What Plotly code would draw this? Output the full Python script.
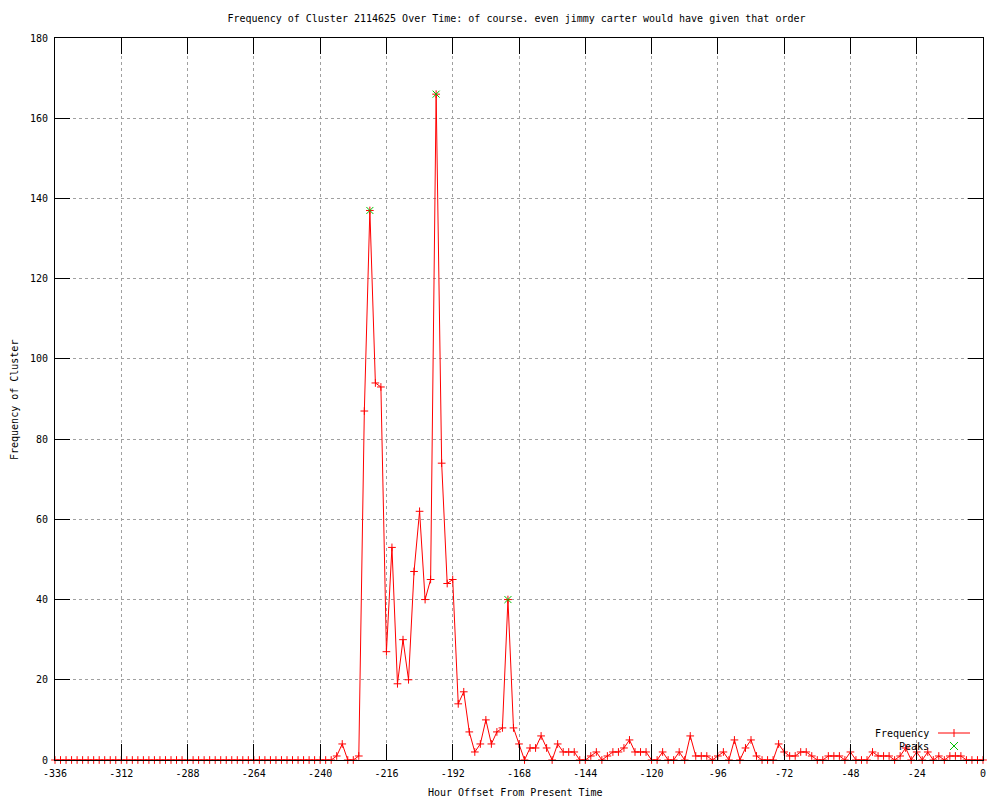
import plotly.graph_objects as go

# ---- data ----
hours = list(range(-336, 1, 2))  # hour offsets, one sample every 2 hours
frequency = [
    0, 0, 0, 0, 0, 0, 0, 0, 0, 0,          # -336 .. -318
    0, 0, 0, 0, 0, 0, 0, 0, 0, 0,          # -316 .. -298
    0, 0, 0, 0, 0, 0, 0, 0, 0, 0,          # -296 .. -278
    0, 0, 0, 0, 0, 0, 0, 0, 0, 0,          # -276 .. -258
    0, 0, 0, 0, 0, 0, 0, 0, 0, 0,          # -256 .. -238
    0, 1, 4, 0, 0, 1, 87, 137, 94, 93,     # -236 .. -218
    27, 53, 19, 30, 20, 47, 62, 40, 45, 166,  # -216 .. -198
    74, 44, 45, 14, 17, 7, 2, 4, 10, 4,    # -196 .. -178
    7, 8, 40, 8, 4, 0, 3, 3, 6, 3,         # -176 .. -158
    0, 4, 2, 2, 2, 0, 0, 1, 2, 0,          # -156 .. -138
    1, 2, 2, 3, 5, 2, 2, 2, 0, 0,          # -136 .. -118
    2, 0, 0, 2, 0, 6, 1, 1, 1, 0,          # -116 .. -98
    1, 2, 0, 5, 0, 3, 5, 1, 0, 0,          # -96 .. -78
    0, 4, 2, 1, 1, 2, 2, 1, 0, 0,          # -76 .. -58
    1, 1, 1, 0, 2, 0, 0, 0, 2, 1,          # -56 .. -38
    1, 1, 0, 1, 3, 0, 2, 0, 2, 0,          # -36 .. -18
    1, 0, 1, 1, 1, 0, 0, 0, 0,             # -16 .. 0
]
peak_hours = [-222, -198, -172]
peak_values = [137, 166, 40]

x_tick_values = [-336, -312, -288, -264, -240, -216, -192, -168, -144, -120, -96, -72, -48, -24, 0]
x_tick_labels = ["-336", "-312", "-288", "-264", "-240", "-216", "-192", "-168",
                 "-144", "-120", "-96", "-72", "-48", "-24", "0"]
y_tick_values = [0, 20, 40, 60, 80, 100, 120, 140, 160, 180]
y_tick_labels = ["0", "20", "40", "60", "80", "100", "120", "140", "160", "180"]

title_text = "Frequency of Cluster 2114625 Over Time: of course. even jimmy carter would have given that order"
x_title = "Hour Offset From Present Time"
y_title = "Frequency of Cluster"
legend_names = ["Frequency", "Peaks"]

RED = "#ff0000"
GREEN = "#00c000"
FONT = "DejaVu Sans Mono"

# ---- layout geometry (pixels) ----
W, H = 1000, 800
L, R, T, B = 55, 983, 38, 760
PW, PH = R - L, B - T


def px(xp):
    return (xp - L) / PW


def py(yp):
    return (B - yp) / PH


fig = go.Figure()

fig.add_trace(go.Scatter(
    x=hours, y=frequency, mode="lines+markers",
    name=legend_names[0], showlegend=False, cliponaxis=False,
    line=dict(color=RED, width=1),
    marker=dict(symbol="cross-thin-open", size=5.5, color=RED,
                line=dict(color=RED, width=1)),
))
fig.add_trace(go.Scatter(
    x=peak_hours, y=peak_values, mode="markers",
    name=legend_names[1], showlegend=False, cliponaxis=False,
    marker=dict(symbol="x-thin-open", size=7, color=GREEN,
                line=dict(color=GREEN, width=1)),
))

axis_common = dict(
    showline=True, linecolor="black", linewidth=1, mirror="ticks",
    ticks="inside", tickcolor="black", tickwidth=1,
    showgrid=True, gridcolor="#a0a0a0", gridwidth=1, griddash="dot",
    zeroline=False,
    tickfont=dict(family=FONT, size=10, color="black"),
)

fig.update_xaxes(range=[-336, 0], tickmode="array", tickvals=x_tick_values,
                 ticktext=x_tick_labels, ticklen=16, ticklabelstandoff=4,
                 **axis_common)
fig.update_yaxes(range=[0, 180], tickmode="array", tickvals=y_tick_values,
                 ticktext=y_tick_labels, ticklen=15, ticklabelstandoff=4,
                 **axis_common)

annotations = [
    dict(text=x_title, xref="paper", yref="paper", x=px(515), y=py(792),
         xanchor="center", yanchor="middle", showarrow=False,
         font=dict(family=FONT, size=10, color="black")),
    dict(text=y_title, xref="paper", yref="paper", x=px(14), y=py(400),
         xanchor="center", yanchor="middle", showarrow=False, textangle=-90,
         font=dict(family=FONT, size=10, color="black")),
    dict(text=legend_names[0], xref="paper", yref="paper", x=px(931), y=py(733),
         xanchor="right", yanchor="middle", showarrow=False,
         font=dict(family=FONT, size=10, color="black")),
    dict(text=legend_names[1], xref="paper", yref="paper", x=px(931), y=py(746),
         xanchor="right", yanchor="middle", showarrow=False,
         font=dict(family=FONT, size=10, color="black")),
]

# legend samples (keys), drawn in paper coordinates
shapes = []
ly1, ly2 = 733, 746
shapes.append(dict(type="line", xref="paper", yref="paper",
                   x0=px(938), x1=px(970), y0=py(ly1), y1=py(ly1),
                   line=dict(color=RED, width=1)))
shapes.append(dict(type="line", xref="paper", yref="paper",
                   x0=px(954), x1=px(954), y0=py(ly1 - 4), y1=py(ly1 + 4),
                   line=dict(color=RED, width=1)))
shapes.append(dict(type="line", xref="paper", yref="paper",
                   x0=px(950), x1=px(958), y0=py(ly2 - 4), y1=py(ly2 + 4),
                   line=dict(color=GREEN, width=1)))
shapes.append(dict(type="line", xref="paper", yref="paper",
                   x0=px(950), x1=px(958), y0=py(ly2 + 4), y1=py(ly2 - 4),
                   line=dict(color=GREEN, width=1)))

fig.update_layout(
    width=W, height=H,
    margin=dict(l=L, r=W - R, t=T, b=H - B),
    paper_bgcolor="white", plot_bgcolor="white",
    title=dict(text=title_text, x=px(516.5), xref="paper", xanchor="center",
               y=1 - 18 / H, yref="container", yanchor="middle",
               font=dict(family=FONT, size=10, color="black")),
    annotations=annotations,
    shapes=shapes,
    showlegend=False,
    hovermode=False,
)

fig.write_html("out.html",
               config={"displayModeBar": False, "staticPlot": True},
               post_script="document.body.style.margin='0';document.body.style.overflow='hidden';")
